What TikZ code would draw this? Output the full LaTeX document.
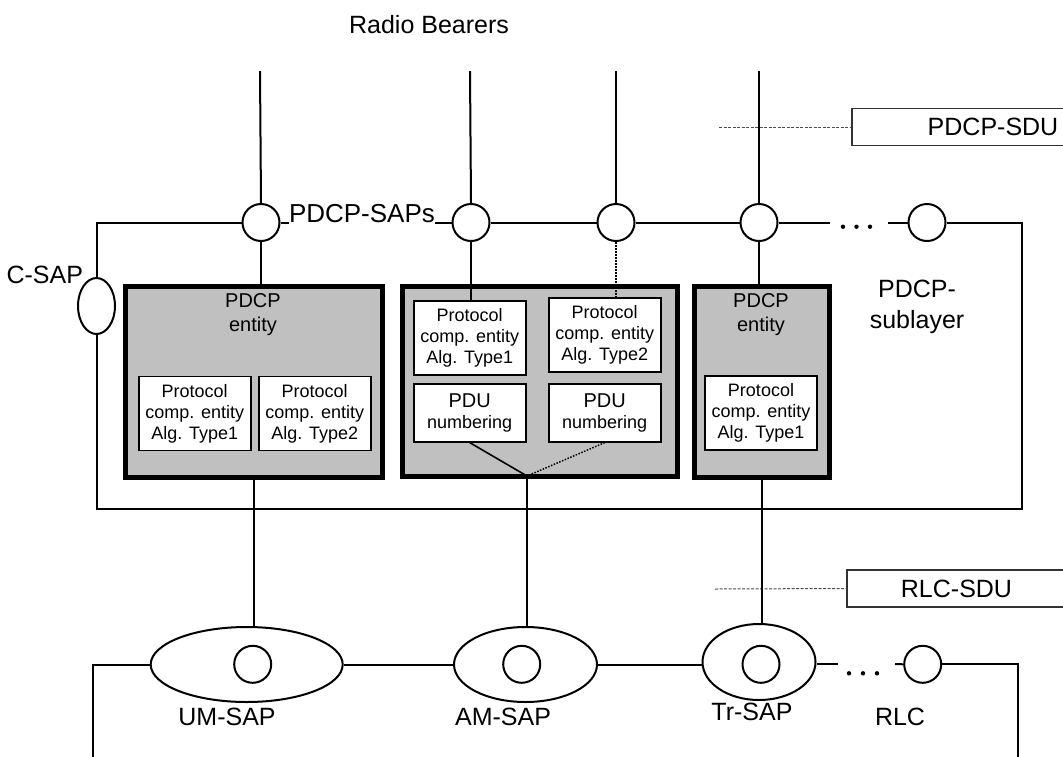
\documentclass[tikz,border=0pt]{standalone}
\usepackage{fontspec}
\setmainfont{Liberation Sans}
\usetikzlibrary{shapes.geometric}
\definecolor{entgray}{RGB}{192,192,192}
\begin{document}
\begin{tikzpicture}[x=1pt,y=-1pt,line width=2pt,
  sap/.style={circle,draw,fill=white,minimum size=37pt,inner sep=0pt},
  ell/.style={ellipse,draw,fill=white,inner sep=0pt},
  entity/.style={draw,line width=5pt,fill=entgray,inner sep=0pt},
  sub/.style={draw,line width=1.6pt,fill=white,inner sep=0pt,minimum width=112pt,align=center,font=\fontsize{18}{21}\selectfont},
  lbl/.style={font=\fontsize{25}{30}\selectfont,inner sep=0pt,align=center},
  ttl/.style={font=\fontsize{20}{24}\selectfont,inner sep=0pt,align=center},
  sdubox/.style={draw=black!80,line width=1.2pt,fill=white,inner sep=0pt,minimum height=37pt,font=\fontsize{25}{30}\selectfont},
  leader/.style={draw=black!70,line width=1pt,dash pattern=on 3pt off 1.5pt},
  dotline/.style={line width=1.5pt,dash pattern=on 1.5pt off 1.5pt},
  ]
\useasboundingbox (0,0) rectangle (1063,756);
\clip (0,0) rectangle (1063,756);

% ---------- PDCP/RLC SDU markers ----------
\node[sdubox,minimum width=282pt] (pdcpsdu) at (993,127) {PDCP-SDU};
\coordinate (pl) at (719,127);
\draw[leader] (pl) -- (pdcpsdu.west);
\node[sdubox,minimum width=219pt] (rlcsdu) at (956.5,588.5) {RLC-SDU};
\coordinate (rl) at (715,589);
\draw[leader] (rl) -- (rlcsdu.west);

% ---------- labels ----------
\node[lbl] (rb) at (429,25) {Radio Bearers};

% ---------- PDCP SAPs ----------
\node[sap] (s1) at (261,222.5) {};
\node[sap] (s2) at (471,222.5) {};
\node[sap] (s3) at (616,222.5) {};
\node[sap] (s4) at (759,222.5) {};
\node[sap] (s5) at (927,222.5) {};
\node[ell,minimum width=37pt,minimum height=56pt] (csap) at (96.5,306) {};

\coordinate (t1) at (260,71);
\coordinate (t2) at (470,71);
\coordinate (t3) at (616,71);
\coordinate (t4) at (759,71);
\draw (t1) -- (s1.north);
\draw (t2) -- (s2.north);
\draw (t3) -- (s3.north);
\draw (t4) -- (s4.north);

% frame of PDCP sublayer
\coordinate (fTL) at (96.5,222.5);
\coordinate (fBL) at (96.5,509);
\coordinate (fBR) at (1021.5,509);
\coordinate (fTR) at (1021.5,222.5);
\coordinate (g1) at (830,222.5);
\coordinate (g2) at (888,222.5);
\draw (s1.west) -- (fTL) -- (csap.north);
\draw (csap.south) -- (fBL) -- (fBR) -- (fTR) -- (s5.east);
\draw (s1.east) -- (s2.west);
\draw (s2.east) -- (s3.west);
\draw (s3.east) -- (s4.west);
\draw (s4.east) -- (g1);
\draw (g2) -- (s5.west);
\fill (843,226.7) circle (2.2) (856.5,226.7) circle (2.2) (870,226.7) circle (2.2);

\node[font=\fontsize{26}{30}\selectfont,fill=white,inner xsep=0.5pt,inner ysep=2.5pt,anchor=base west] (sapsL) at (287.5,222.5) {PDCP-SAPs};
\node[lbl,anchor=base east] (csapL) at (84,283) {C-SAP};
\node[font=\fontsize{25}{31}\selectfont,inner sep=0pt,align=center] (subL) at (917,307) {PDCP-\\sublayer};

% ---------- PDCP entities ----------
\node[entity,minimum width=257pt,minimum height=191pt] (ent1) at (253.5,381.5) {};
\node[entity,minimum width=275pt,minimum height=190pt] (ent2) at (540,381.5) {};
\node[entity,minimum width=135pt,minimum height=191pt] (ent3) at (761.7,381.5) {};

\node[ttl] (e1t) at (253,314.5) {PDCP\\entity};
\node[ttl] (e3t) at (761,314.5) {PDCP\\entity};

\node[sub,minimum height=74pt] (pc11) at (194.7,413.5) {Protocol\\comp. entity\\Alg. Type1};
\node[sub,minimum height=74pt] (pc12) at (314.7,413.5) {Protocol\\comp. entity\\Alg. Type2};
\node[sub,minimum height=74pt] (pc21) at (469.7,338) {Protocol\\comp. entity\\Alg. Type1};
\node[sub,minimum height=74pt] (pc22) at (604.7,334.7) {Protocol\\comp. entity\\Alg. Type2};
\node[sub,minimum height=58pt] (pdu1) at (469.7,412.8) {{\fontsize{20}{23}\selectfont PDU}\\numbering};
\node[sub,minimum height=58pt] (pdu2) at (604.7,412.8) {{\fontsize{20}{23}\selectfont PDU}\\numbering};
\node[sub,minimum height=74pt] (pc31) at (761,413) {Protocol\\comp. entity\\Alg. Type1};

\draw (s1.south) -- (s1.south |- ent1.north);
\draw (s2.south) -- (s2.south |- pc21.north);
\draw[dotline] (s3.south) -- (s3.south |- pc22.north);
\draw (s4.south) -- (s4.south |- ent3.north);

\coordinate (j) at (527,476);
\draw[line width=1.6pt] (pdu1.south) -- (j);
\draw[dotline] (pdu2.south) -- (j);

% ---------- RLC SAPs ----------
\node[ell,minimum width=192pt,minimum height=75pt] (um) at (246.7,664.5) {};
\node[ell,minimum width=143pt,minimum height=75pt] (am) at (525.5,664.5) {};
\node[ell,minimum width=113pt,minimum height=76pt] (tr) at (759,662) {};
\node[sap] (umc) at (252.7,664.3) {};
\node[sap] (amc) at (521.7,664.3) {};
\node[sap] (trc) at (761,664.3) {};
\node[sap] (rlcc) at (922.7,664.3) {};

\draw (ent1.south) -- (ent1.south |- um.north);
\draw (j) -- (j |- am.north);
\draw (ent3.south) -- (ent3.south |- tr.north);

\coordinate (bl) at (92.5,770);
\coordinate (br) at (1017.5,770);
\coordinate (g3) at (838,664);
\coordinate (g4) at (895,664);
\draw (um.west) -| (bl);
\draw (um.east) -- (am.west);
\draw (am.east) -- (tr.west |- am.east);
\draw (tr.east |- g3) -- (g3);
\draw (g4) -- (rlcc.west);
\draw (rlcc.east) -| (br);
\fill (849,673.3) circle (2.2) (863,673.3) circle (2.2) (877,673.3) circle (2.2);

\node[lbl] (umL) at (227,717) {UM-SAP};
\node[lbl] (amL) at (503,717) {AM-SAP};
\node[lbl] (trL) at (752,712) {Tr-SAP};
\node[lbl] (rlcL) at (900,717) {RLC};
\end{tikzpicture}
\end{document}
